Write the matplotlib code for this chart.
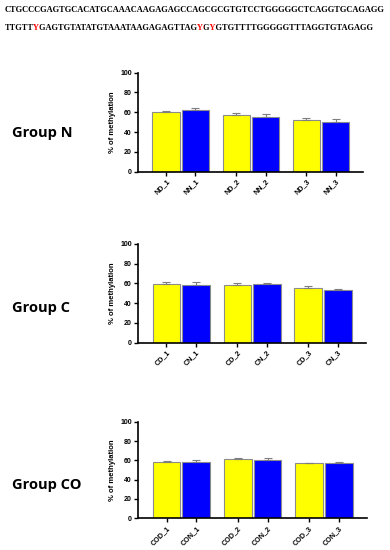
import matplotlib
matplotlib.use("Agg")
import matplotlib.pyplot as plt
from matplotlib.font_manager import FontProperties
from matplotlib.textpath import text_to_path
from matplotlib.transforms import Bbox
from matplotlib.patches import Rectangle
import numpy as np

seq_line1 = "CTGCCCGAGTGCACATGCAAACAAGAGAGCCAGCGCGTGTCCTGGGGGCTCAGGTGCAGAGG"
seq_line2 = "TTGTTYGAGTGTATATGTAAATAAGAGAGTTAGYGYGTGTTTTGGGGGTTTAGGTGTAGAGG"
red_positions = [5, 33, 35]

group_titles = ["Group N", "Group C", "Group CO"]
labels_N = ["ND_1", "NN_1", "ND_2", "NN_2", "ND_3", "NN_3"]
labels_C = ["CD_1", "CN_1", "CD_2", "CN_2", "CD_3", "CN_3"]
labels_CO = ["COD_1", "CON_1", "COD_2", "CON_2", "COD_3", "CON_3"]

vals_N = [60.0, 62.3, 56.9, 55.2, 51.9, 50.2]
err_N = [1.0, 2.0, 2.4, 2.7, 2.3, 3.0]
vals_C = [59.5, 58.8, 58.8, 59.1, 55.4, 53.4]
err_C = [1.6, 2.7, 2.0, 1.4, 1.7, 1.3]
vals_CO = [58.3, 57.9, 61.0, 60.3, 56.9, 56.9]
err_CO = [1.4, 2.1, 1.0, 1.7, 0.7, 1.4]

yticks = [0, 20, 40, 60, 80, 100]
ylabel = "% of methylation"

panels = [
    (labels_N, vals_N, err_N),
    (labels_C, vals_C, err_C),
    (labels_CO, vals_CO, err_CO),
]

W, H = 390, 550
DPI = 100
fig = plt.figure(figsize=(W / DPI, H / DPI), dpi=DPI)
overlay = fig.add_axes([0, 0, 1, 1])
overlay.set_xlim(0, W)
overlay.set_ylim(H, 0)
overlay.axis("off")

fp = FontProperties(family="Liberation Serif", weight="bold", size=6.4)


def pen_positions(s, prop):
    font = text_to_path._get_font(prop)
    font.set_size(text_to_path.FONT_SCALE, text_to_path.DPI)
    info, gmap, rects = text_to_path.get_glyphs_with_font(font, s)
    xs = [g[1] for g in info]
    font.set_text(s[-1], 0.0)
    last_adv = font.get_width_height()[0] / 64.0
    return xs, xs[-1] + last_adv


_, total1 = pen_positions(seq_line1, fp)
fs = 380.0 / (total1 / 100.0 * DPI / 72.0)
fp.set_size(fs)
scale = fs / 100.0 * DPI / 72.0

X0 = 5
overlay.text(X0, 12, seq_line1, fontproperties=fp, va="baseline", ha="left",
             color="black", zorder=1)

# line 2: black full line, red copies clipped to the Y glyphs
Y2 = 30
overlay.text(X0, Y2, seq_line2, fontproperties=fp, va="baseline", ha="left",
             color="black", zorder=1)
xs2, total2 = pen_positions(seq_line2, fp)
xs2 = list(xs2) + [total2]
for i in red_positions:
    xa = X0 + xs2[i] * scale - 0.2
    xb = X0 + xs2[i + 1] * scale + 0.2
    overlay.add_patch(Rectangle((xa, Y2 - 9), xb - xa, 12, facecolor="white",
                                edgecolor="none", zorder=2))
    tr = overlay.text(X0, Y2, seq_line2, fontproperties=fp, va="baseline", ha="left",
                      color="red", zorder=3)
    tr.set_clip_box(Bbox.from_extents(xa, H - Y2 - 3, xb, H - Y2 + 9))
    tr.set_clip_on(True)

# axes positions (pixels): left, right, y0, y100
geo = [(138, 363, 171.7, 72.7), (138, 365.7, 342.7, 244), (138, 366.7, 518.3, 421.7)]
title_y = [133, 308, 485]

yellow = "#FFFF00"
blue = "#0000FF"
edge = "#8C8C8C"

for (labels, vals, errs), (l, r, y0, y1), ty, title in zip(panels, geo, title_y, group_titles):
    ax = fig.add_axes([l / W, 1 - y0 / H, (r - l) / W, (y0 - y1) / H])
    x = []
    for g in range(3):
        x += [g - 0.209, g + 0.209]
    x = np.array(x)
    colors = [yellow, blue] * 3
    ax.bar(x, vals, width=0.39, color=colors, edgecolor=edge, linewidth=0.8, zorder=2)
    ax.errorbar(x, vals, yerr=[np.zeros(6), errs], fmt="none", ecolor="#7F7F7F",
                elinewidth=0.8, capsize=3, capthick=0.8, zorder=3)
    ax.set_xlim(-0.61, 2.6)
    ax.set_ylim(0, 100)
    ax.set_yticks(yticks)
    ax.set_yticklabels([str(v) for v in yticks], fontsize=5, fontweight="bold",
                       family="Liberation Sans")
    ax.set_xticks(x)
    ax.set_xticklabels(labels, rotation=45, ha="right", rotation_mode="anchor",
                       fontsize=5.2, fontweight="bold", family="Liberation Sans")
    ax.set_ylabel(ylabel, fontsize=5.5, fontweight="bold", family="Liberation Sans", labelpad=3)
    for s in ["top", "right"]:
        ax.spines[s].set_visible(False)
    for s in ["left", "bottom"]:
        ax.spines[s].set_linewidth(1.2)
    ax.tick_params(axis="both", direction="out", length=3, width=1.0, pad=1.5)
    overlay.text(12, ty, title, fontsize=10.5, fontweight="bold",
                 family="Open Sans", va="center", ha="left")

fig.savefig("out.png", dpi=DPI)
